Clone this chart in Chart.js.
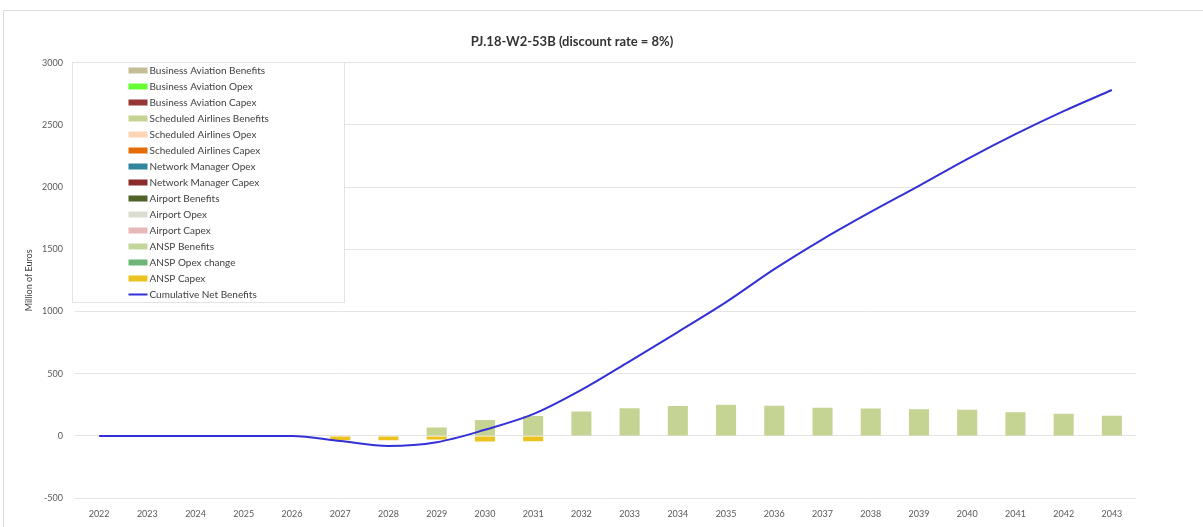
<!DOCTYPE html>
<html>
<head>
<meta charset="utf-8">
<title>PJ.18-W2-53B</title>
<script src="https://cdn.jsdelivr.net/npm/chart.js@4.4.1/dist/chart.umd.min.js"></script>
<style>
    body { margin: 0; background: #fff; }
    .chart-box { position: relative; width: 1203px; height: 527px; overflow: hidden; }
    .frame { position: absolute; left: 3px; top: 10px; width: 1260px; height: 560px; border: 1px solid #dcdcdc; }
    #cbaChart { position: absolute; left: 0; top: 0; }
</style>
</head>
<body>
<div class="chart-box">
    <div class="frame"></div>
    <canvas id="cbaChart" width="1203" height="537"></canvas>
</div>
<script>
// Years of the assessment
const years = ['2022', '2023', '2024', '2025', '2026', '2027', '2028', '2029', '2030', '2031', '2032',
    '2033', '2034', '2035', '2036', '2037', '2038', '2039', '2040', '2041', '2042', '2043'];

// Stakeholders with nothing to report in this scenario
const noValues = [0, 0, 0, 0, 0, 0, 0, 0, 0, 0, 0, 0, 0, 0, 0, 0, 0, 0, 0, 0, 0, 0];

// Million of euros, discounted at 8%
const scheduledAirlinesBenefits = [0, 0, 0, 0, 0, 0, 0, 68, 128, 160, 196, 222, 241, 250, 243, 226, 221, 214, 210, 191, 178, 163];
const ansCapex = [0, 0, 0, 0, 0, -35, -35, -28, -45, -42, 0, 0, 0, 0, 0, 0, 0, 0, 0, 0, 0, 0];
const cumulativeNetBenefits = [0, 0, 0, 0, 0, -40, -80, -50, 50, 175, 370, 600, 835, 1075, 1340, 1580, 1800, 2010, 2225, 2425, 2610, 2780];

const yTicks = { min: -500, max: 3000, step: 500 };

const FONT = 'Lato, "Open Sans", sans-serif';

function barSeries(label, color, values) {
    return {
        type: 'bar',
        label: label,
        data: values,
        backgroundColor: color,
        stack: 'cba',
        order: 1,
        barPercentage: 0.52,
        categoryPercentage: 0.8
    };
}

// Legend box sitting over the upper left of the plot
const boxLegend = {
    id: 'boxLegend',
    afterDraw(chart) {
        const ctx = chart.ctx;
        const area = chart.chartArea;
        const left = Math.round(area.left) - 2.5;
        const top = Math.round(area.top) - 0.5;
        ctx.save();
        ctx.fillStyle = '#fff';
        ctx.fillRect(left, top, 272, 240);
        ctx.strokeStyle = '#e3e3e3';
        ctx.lineWidth = 1;
        ctx.strokeRect(left, top, 272, 240);
        ctx.font = '10px ' + FONT;
        ctx.textBaseline = 'middle';
        chart.data.datasets.forEach(function (ds, i) {
            const y = top + 8 + i * 16;
            if (ds.type === 'line') {
                ctx.strokeStyle = ds.borderColor;
                ctx.lineWidth = 2;
                ctx.beginPath();
                ctx.moveTo(left + 56, y);
                ctx.lineTo(left + 75, y);
                ctx.stroke();
            } else {
                ctx.fillStyle = ds.backgroundColor;
                ctx.fillRect(left + 56, y - 3, 19, 6);
            }
            ctx.fillStyle = '#404040';
            ctx.fillText(ds.label, left + 77, y + 0.5);
        });
        ctx.restore();
    }
};

const ctx = document.getElementById('cbaChart').getContext('2d');
const cbaChart = new Chart(ctx, {
    data: {
        labels: years,
        datasets: [
            barSeries('Business Aviation Benefits', '#c4bd97', noValues),
            barSeries('Business Aviation Opex', '#66ff33', noValues),
            barSeries('Business Aviation Capex', '#953735', noValues),
            barSeries('Scheduled Airlines Benefits', '#c5d492', scheduledAirlinesBenefits),
            barSeries('Scheduled Airlines Opex', '#fcd5b5', noValues),
            barSeries('Scheduled Airlines Capex', '#e46c0a', noValues),
            barSeries('Network Manager Opex', '#31859c', noValues),
            barSeries('Network Manager Capex', '#8b2a2a', noValues),
            barSeries('Airport Benefits', '#4f6228', noValues),
            barSeries('Airport Opex', '#dcdcd0', noValues),
            barSeries('Airport Capex', '#e6b9b8', noValues),
            barSeries('ANSP Benefits', '#c3d69b', noValues),
            barSeries('ANSP Opex change', '#6fb57a', noValues),
            barSeries('ANSP Capex', '#ebc21e', ansCapex),
            {
                type: 'line',
                label: 'Cumulative Net Benefits',
                data: cumulativeNetBenefits,
                borderColor: '#3331d6',
                borderWidth: 2,
                pointRadius: 0,
                cubicInterpolationMode: 'monotone',
                fill: false,
                stack: 'cumulative',
                order: 0
            }
        ]
    },
    options: {
        responsive: false,
        animation: false,
        layout: {
            padding: { left: 8, right: 67, top: 26, bottom: 8 }
        },
        plugins: {
            legend: { display: false },
            tooltip: { enabled: false },
            title: {
                display: true,
                text: 'PJ.18-W2-53B (discount rate = 8%)',
                color: '#333',
                font: { family: FONT, size: 13, weight: 'bold' },
                padding: { top: 8, bottom: 13 }
            }
        },
        scales: {
            x: {
                stacked: true,
                grid: { display: false, drawTicks: false },
                border: { display: false },
                ticks: {
                    color: '#595959',
                    font: { family: FONT, size: 9 },
                    padding: 10,
                    maxRotation: 0,
                    autoSkip: false
                }
            },
            y: {
                stacked: true,
                min: yTicks.min,
                max: yTicks.max,
                afterFit: function (scale) { scale.width = 67; },
                grid: { color: '#e4e4e4', drawTicks: false },
                border: { display: false },
                ticks: {
                    stepSize: yTicks.step,
                    color: '#595959',
                    font: { family: FONT, size: 9 },
                    padding: 12,
                    callback: function (value) { return String(value); }
                },
                title: {
                    display: true,
                    text: 'Million of Euros',
                    color: '#404040',
                    font: { family: FONT, size: 9 },
                    padding: { top: 16, bottom: 0 }
                }
            }
        }
    },
    plugins: [boxLegend]
});
</script>
</body>
</html>
